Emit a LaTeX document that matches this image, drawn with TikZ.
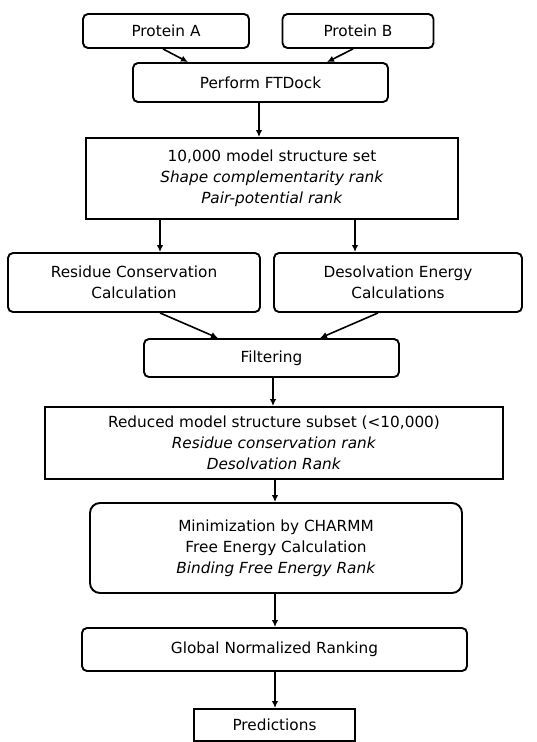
\documentclass[tikz,border=0pt]{standalone}
\usepackage{fontspec}
\setmainfont{DejaVu Sans}
\usetikzlibrary{arrows.meta}
\begin{document}
\begin{tikzpicture}[x=1pt,y=-1pt,
  every node/.style={inner sep=0pt, align=center, font=\fontsize{15.3}{20.8}\selectfont},
  rbox/.style={draw, line width=1.9pt, rounded corners=5pt},
  sbox/.style={draw, line width=1.9pt},
  arr/.style={line width=1.6pt, -{Latex[length=7pt,width=6.5pt]}}]
\useasboundingbox (0,0) rectangle (537,742);
\node[rbox, minimum width=166pt, minimum height=34pt] (pa) at (166,31) {Protein A};
\node[rbox, minimum width=151pt, minimum height=34pt] (pb) at (358,31) {Protein B};
\node[rbox, minimum width=255pt, minimum height=39pt] (ft) at (260.5,82.5) {Perform FTDock};
\node[sbox, minimum width=372pt, minimum height=81pt] (set) at (272,178.5) {10,000 model structure set\\\textit{Shape complementarity rank}\\\textit{Pair-potential rank}};
\node[rbox, minimum width=252pt, minimum height=59pt] (res) at (134,282.5) {Residue Conservation\\Calculation};
\node[rbox, minimum width=248pt, minimum height=59pt] (des) at (398,282.5) {Desolvation Energy\\Calculations};
\node[rbox, minimum width=255pt, minimum height=38pt] (filt) at (271.5,358) {Filtering};
\node[sbox, minimum width=458pt, minimum height=72pt] (red) at (274,443) {Reduced model structure subset (<10,000)\\\textit{Residue conservation rank}\\\textit{Desolvation Rank}};
\node[rbox, rounded corners=10pt, minimum width=372pt, minimum height=90pt] (min) at (276,548) {Minimization by CHARMM\\Free Energy Calculation\\\textit{Binding Free Energy Rank}};
\node[rbox, minimum width=385pt, minimum height=43pt] (glob) at (274.5,649.5) {Global Normalized Ranking};
\node[sbox, minimum width=161pt, minimum height=32pt] (pred) at (274.5,725) {Predictions};
\draw[arr] ([xshift=-3pt]pa.south) -- ([xshift=-72.5pt]ft.north);
\draw[arr] ([xshift=-5pt]pb.south) -- ([xshift=66.5pt]ft.north);
\draw[arr] ([xshift=-1.5pt]ft.south) -- ([xshift=-1.5pt]ft.south |- set.north);
\draw[arr] ([xshift=-112pt]set.south) -- ([xshift=-112pt]set.south |- res.north);
\draw[arr] ([xshift=83pt]set.south) -- ([xshift=83pt]set.south |- des.north);
\draw[arr] ([xshift=26pt]res.south) -- ([xshift=-53.5pt]filt.north);
\draw[arr] ([xshift=-20pt]des.south) -- ([xshift=48.5pt]filt.north);
\draw[arr] ([xshift=1.5pt]filt.south) -- ([xshift=1.5pt]filt.south |- red.north);
\draw[arr] ([xshift=1pt]red.south) -- ([xshift=1pt]red.south |- min.north);
\draw[arr] ([xshift=-1pt]min.south) -- ([xshift=-1pt]min.south |- glob.north);
\draw[arr] ([xshift=0.5pt]glob.south) -- ([xshift=0.5pt]glob.south |- pred.north);
\end{tikzpicture}
\end{document}
